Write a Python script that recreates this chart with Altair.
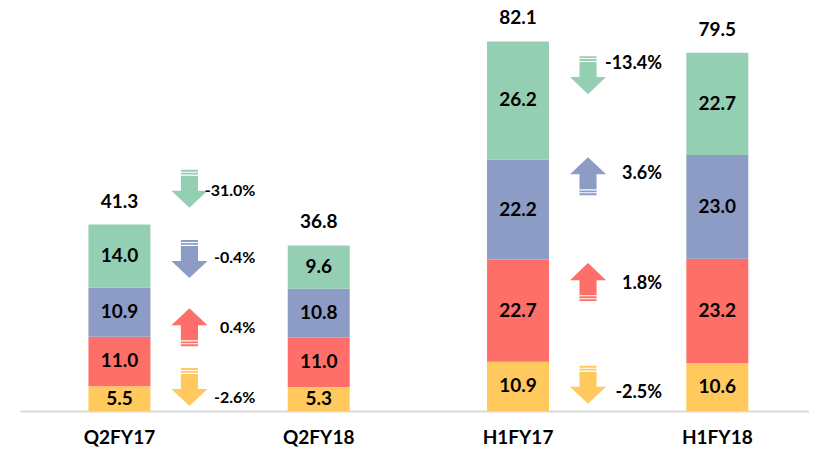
import altair as alt
import pandas as pd

periods = ["Q2FY17", "Q2FY18", "H1FY17", "H1FY18"]
series = ["S1", "S2", "S3", "S4"]  # bottom -> top
colors = ["#FFC95E", "#FF6F69", "#8C9CC5", "#95CFB3"]
values = {
    "Q2FY17": [5.5, 11.0, 10.9, 14.0],
    "Q2FY18": [5.3, 11.0, 10.8, 9.6],
    "H1FY17": [10.9, 22.7, 22.2, 26.2],
    "H1FY18": [10.6, 23.2, 23.0, 22.7],
}
totals = [41.3, 36.8, 82.1, 79.5]

# growth annotations (placed between the compared bars)
change_anchor = ["Q2FY17", "Q2FY17", "Q2FY17", "Q2FY17", "H1FY17", "H1FY17", "H1FY17", "H1FY17"]
change_series = ["S1", "S2", "S3", "S4", "S1", "S2", "S3", "S4"]
change_text = ["-2.6%", "0.4%", "-0.4%", "-31.0%", "-2.5%", "1.8%", "3.6%", "-13.4%"]
change_dir = ["down", "up", "down", "down", "down", "up", "up", "down"]
arrow_y = [5.3, 18.6, 33.7, 49.3, 5.8, 28.6, 52.1, 74.5]
label_y = [2.9, 18.4, 33.9, 48.8, 4.0, 28.2, 52.6, 77.0]

rows = []
for p in periods:
    base = 0.0
    for s, v in zip(series, values[p]):
        rows.append({"period": p, "series": s, "value": v, "y0": base, "y1": base + v,
                     "mid": base + v / 2, "label": f"{v:.1f}"})
        base += v
seg = pd.DataFrame(rows)
tot = pd.DataFrame({"period": periods, "total": totals, "label": [f"{t:.1f}" for t in totals]})
chg = pd.DataFrame({"period": change_anchor, "series": change_series, "text": change_text,
                    "dir": change_dir, "ay": arrow_y, "ly": label_y})
chg["grp"] = chg["period"].str[:2]

FONT = "Lato"
W = "bold"
x = alt.X("period:N", sort=periods,
          scale=alt.Scale(domain=periods, paddingInner=0.689, paddingOuter=0.324, align=0.53),
          axis=alt.Axis(title=None, labelAngle=0, ticks=False, domainColor="#D9D9D9", domainWidth=2,
                        labelFont=FONT, labelFontSize=19, labelFontWeight=W, labelColor="#000000",
                        labelPadding=17))
yscale = alt.Scale(domain=[0, 88.3], nice=False, zero=True)
color = alt.Color("series:N", scale=alt.Scale(domain=series, range=colors), legend=None)

bars = alt.Chart(seg).mark_bar(stroke=None).encode(
    x=x,
    y=alt.Y("y0:Q", scale=yscale, axis=None),
    y2="y1:Q",
    color=color,
)
seg_text = alt.Chart(seg).mark_text(font=FONT, fontSize=19, fontWeight=W, color="#000000",
                                    baseline="middle").encode(
    x=alt.X("period:N", sort=periods), y=alt.Y("mid:Q", scale=yscale), text="label:N")
tot_text = alt.Chart(tot).mark_text(font=FONT, fontSize=19, fontWeight=W, color="#000000",
                                    baseline="middle", dy=-23).encode(
    x=alt.X("period:N", sort=periods), y=alt.Y("total:Q", scale=yscale), text="label:N")

down_path = ("M-0.45,-1L0.45,-1L0.45,-0.9L-0.45,-0.9Z"
             "M-0.45,-0.85L0.45,-0.85L0.45,-0.75L-0.45,-0.75Z"
             "M-0.45,-0.69L0.45,-0.69L0.45,0.1L0.95,0.1L0,1L-0.95,0.1L-0.45,0.1Z")
up_path = ("M-0.45,1L0.45,1L0.45,0.9L-0.45,0.9Z"
           "M-0.45,0.85L0.45,0.85L0.45,0.75L-0.45,0.75Z"
           "M-0.45,0.69L0.45,0.69L0.45,-0.1L0.95,-0.1L0,-1L-0.95,-0.1L-0.45,-0.1Z")

arrows = alt.Chart(chg).mark_point(filled=True, size=1444, opacity=1, strokeWidth=0, xOffset=70).encode(
    x=alt.X("period:N", sort=periods),
    y=alt.Y("ay:Q", scale=yscale),
    shape=alt.Shape("dir:N", scale=alt.Scale(domain=["up", "down"], range=[up_path, down_path]), legend=None),
    color=color,
)
pct_q = alt.Chart(chg).transform_filter(alt.datum.grp == "Q2").mark_text(
    font=FONT, fontSize=16, fontWeight=W, color="#000000", align="right", baseline="middle", dx=136
).encode(x=alt.X("period:N", sort=periods), y=alt.Y("ly:Q", scale=yscale), text="text:N")
pct_h = alt.Chart(chg).transform_filter(alt.datum.grp == "H1").mark_text(
    font=FONT, fontSize=18, fontWeight=W, color="#000000", align="right", baseline="middle", dx=144
).encode(x=alt.X("period:N", sort=periods), y=alt.Y("ly:Q", scale=yscale), text="text:N")

chart = alt.layer(bars, seg_text, tot_text, arrows, pct_q, pct_h).properties(
    width=789, height=398,
    padding={"left": 12, "top": 0, "right": 0, "bottom": 0},
).configure_view(stroke=None)

chart.save("out.html", embed_options={"renderer": "svg", "actions": False})
